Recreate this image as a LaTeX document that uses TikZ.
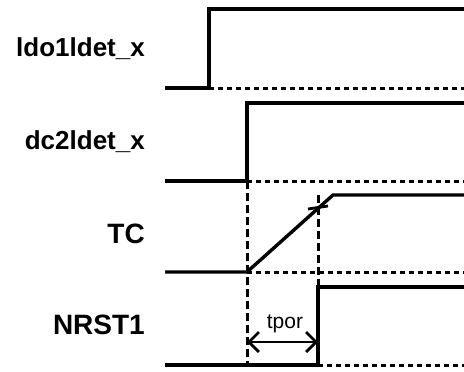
\documentclass[tikz,border=0pt]{standalone}
\usepackage{fontspec}
\setmainfont{Liberation Sans}
\usetikzlibrary{arrows.meta}

\begin{document}
\begin{tikzpicture}[x=1pt,y=-1pt,
  wave/.style={line width=3.4pt},
  lowdash/.style={line width=3pt,dash pattern=on 5pt off 4pt},
  refdash/.style={line width=3pt,dash pattern=on 8pt off 4pt},
  siglabel/.style={anchor=east,inner sep=0pt,font=\bfseries\fontsize{26}{26}\selectfont},
  biglabel/.style={anchor=east,inner sep=0pt,font=\bfseries\fontsize{28}{28}\selectfont},
  barb/.tip={Straight Barb[length=10pt,width=20pt]}]
\useasboundingbox (0,0) rectangle (464,372);
% time points
\coordinate (ldoup) at (209,88);
\coordinate (dcup) at (247,181);
\coordinate (tclow) at (247,272);
\coordinate (tctop) at (333,195);
\coordinate (rstup) at (318,365);
\coordinate (porA) at (247,342);
\coordinate (porB) at (318,342);
% labels
\node[siglabel] (ldo) at (145,48.5) {ldo1ldet\_x};
\node[siglabel] (dc) at (145,142) {dc2ldet\_x};
\node[biglabel] (tc) at (145,233.5) {TC};
\node[biglabel] (rst) at (145,325) {NRST1};
% waves
\draw[wave] (165,88) -- (ldoup) -- (209,9) -- (464,9);
\draw[lowdash] (ldoup) -- (464,88);
\draw[wave] (165,181) -- (dcup) -- (247,103) -- (464,103);
\draw[lowdash] (dcup) -- (464,181);
\draw[wave] (165,272) -- (tclow) -- (tctop) -- (464,195);
\draw[lowdash] (tclow) -- (464,272);
\draw[wave] (165,365) -- (rstup) -- (318,287) -- (464,287);
\draw[lowdash] (rstup) -- (464,365);
% reference lines
\draw[refdash] (dcup) -- (247,365);
\draw[refdash] (318,195) -- (318,287);
\draw[line width=2.8pt] (308,209) -- (328,206);
\draw[line width=2.8pt,barb-barb] (porA) -- (porB);
\node[font=\fontsize{21}{21}\selectfont,anchor=base,inner sep=0pt] (tpor) at (285,328) {tpor};
\end{tikzpicture}
\end{document}
